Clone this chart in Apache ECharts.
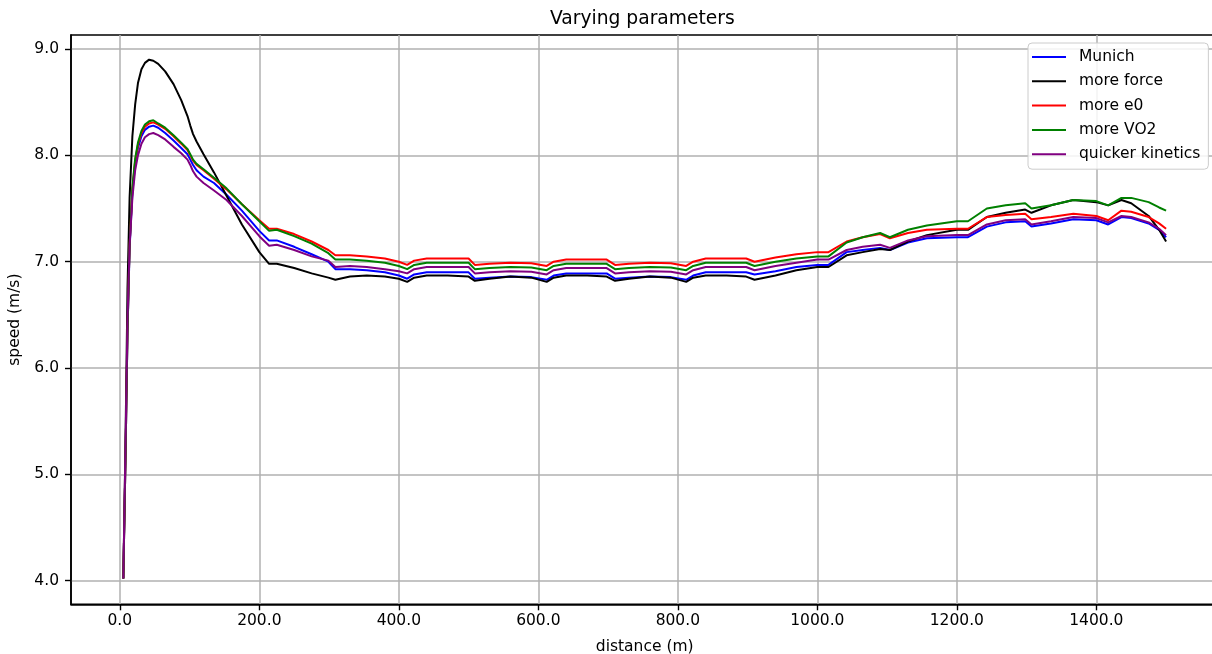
<!DOCTYPE html>
<html>
<head>
<meta charset="utf-8">
<script src="https://cdn.jsdelivr.net/npm/echarts@6/dist/echarts.min.js"></script>
<style>
html,body{margin:0;padding:0;background:#fff;}
#chart{width:1212px;height:654px;}
</style>
</head>
<body>
<div id="chart"></div>
<script>
// distance (m)
const distance = [
  5, 8, 11, 14, 18, 22, 26, 31, 36, 42, 48, 55, 65, 77, 88, 97, 101, 105, 110, 120, 135, 153, 175, 200,
  214, 225, 250, 275, 299, 309, 330, 354, 380, 400,
  412, 422, 440, 470, 500, 509, 530, 560, 590, 612, 622, 640, 670, 698, 710, 730, 760, 790, 812, 822, 840, 870, 898, 910, 940, 970, 1000,
  1016, 1042, 1065, 1090, 1104, 1130, 1157, 1200, 1216, 1243, 1270, 1298, 1307, 1335, 1367, 1400, 1417, 1436, 1450, 1475, 1490, 1500
];
const munich = [
  4.02, 5.10, 6.33, 7.12, 7.65, 7.92, 8.07, 8.18, 8.24, 8.27, 8.28, 8.26, 8.21, 8.14, 8.07, 8.01, 7.96, 7.91, 7.86, 7.80, 7.74, 7.63, 7.48, 7.29,
  7.20, 7.20, 7.14, 7.07, 7.00, 6.93, 6.93, 6.92, 6.90, 6.87,
  6.84, 6.88, 6.90, 6.90, 6.90, 6.84, 6.85, 6.86, 6.855, 6.83, 6.87, 6.89, 6.89, 6.89, 6.84, 6.85, 6.86, 6.855, 6.83, 6.87, 6.90, 6.90, 6.90, 6.88, 6.91, 6.95, 6.97,
  6.97, 7.09, 7.11, 7.13, 7.11, 7.18, 7.22, 7.23, 7.23, 7.33, 7.37, 7.38, 7.33, 7.36, 7.40, 7.39, 7.35, 7.42, 7.41, 7.36, 7.30, 7.23
];
const moreForce = [
  4.02, 5.25, 6.75, 7.60, 8.18, 8.48, 8.68, 8.81, 8.87, 8.90, 8.89, 8.86, 8.79, 8.67, 8.52, 8.37, 8.28, 8.20, 8.13, 8.01, 7.84, 7.62, 7.35, 7.09,
  6.98, 6.98, 6.94, 6.89, 6.85, 6.83, 6.86, 6.87, 6.86, 6.84,
  6.81, 6.85, 6.87, 6.87, 6.86, 6.82, 6.84, 6.86, 6.85, 6.81, 6.85, 6.87, 6.87, 6.86, 6.82, 6.84, 6.86, 6.85, 6.81, 6.85, 6.87, 6.87, 6.86, 6.83, 6.87, 6.92, 6.95,
  6.95, 7.06, 7.09, 7.12, 7.11, 7.19, 7.25, 7.30, 7.30, 7.42, 7.46, 7.49, 7.46, 7.53, 7.58, 7.56, 7.53, 7.58, 7.55, 7.43, 7.30, 7.19
];
const moreE0 = [
  4.02, 5.10, 6.35, 7.15, 7.68, 7.95, 8.10, 8.21, 8.27, 8.30, 8.31, 8.29, 8.25, 8.18, 8.11, 8.05, 8.00, 7.95, 7.91, 7.86, 7.78, 7.68, 7.54, 7.39,
  7.31, 7.31, 7.26, 7.19, 7.11, 7.06, 7.06, 7.05, 7.03, 7.00,
  6.97, 7.01, 7.03, 7.03, 7.03, 6.97, 6.98, 6.99, 6.985, 6.96, 7.00, 7.02, 7.02, 7.02, 6.97, 6.98, 6.99, 6.985, 6.96, 7.00, 7.03, 7.03, 7.03, 7.00, 7.04, 7.07, 7.09,
  7.09, 7.19, 7.23, 7.26, 7.22, 7.27, 7.30, 7.31, 7.31, 7.42, 7.44, 7.45, 7.40, 7.42, 7.45, 7.43, 7.39, 7.48, 7.47, 7.42, 7.36, 7.31
];
const moreVO2 = [
  4.02, 5.10, 6.35, 7.15, 7.70, 7.97, 8.12, 8.23, 8.29, 8.32, 8.33, 8.30, 8.26, 8.19, 8.12, 8.06, 8.01, 7.96, 7.92, 7.87, 7.79, 7.69, 7.54, 7.38,
  7.29, 7.30, 7.24, 7.17, 7.08, 7.02, 7.02, 7.01, 6.99, 6.96,
  6.93, 6.97, 6.99, 6.99, 6.99, 6.93, 6.94, 6.95, 6.945, 6.92, 6.96, 6.98, 6.98, 6.98, 6.93, 6.94, 6.95, 6.945, 6.92, 6.96, 6.99, 6.99, 6.99, 6.96, 7.00, 7.03, 7.05,
  7.05, 7.18, 7.23, 7.27, 7.23, 7.30, 7.34, 7.38, 7.38, 7.50, 7.53, 7.55, 7.50, 7.53, 7.58, 7.57, 7.53, 7.60, 7.60, 7.56, 7.51, 7.48
];
const quickerKinetics = [
  4.02, 5.20, 6.45, 7.15, 7.60, 7.86, 8.00, 8.11, 8.17, 8.20, 8.21, 8.19, 8.15, 8.08, 8.02, 7.96, 7.91, 7.85, 7.80, 7.74, 7.67, 7.58, 7.43, 7.24,
  7.15, 7.16, 7.11, 7.05, 7.01, 6.95, 6.96, 6.95, 6.93, 6.91,
  6.89, 6.93, 6.95, 6.95, 6.95, 6.89, 6.90, 6.91, 6.905, 6.88, 6.92, 6.94, 6.94, 6.94, 6.89, 6.90, 6.91, 6.905, 6.88, 6.92, 6.95, 6.95, 6.95, 6.92, 6.96, 6.99, 7.02,
  7.02, 7.11, 7.14, 7.16, 7.13, 7.20, 7.24, 7.25, 7.25, 7.35, 7.39, 7.40, 7.35, 7.38, 7.42, 7.41, 7.37, 7.43, 7.42, 7.37, 7.31, 7.25
];
const xTicks = [0, 200, 400, 600, 800, 1000, 1200, 1400];
const yTicks = [4, 5, 6, 7, 8, 9];
const seriesNames = ['Munich', 'more force', 'more e0', 'more VO2', 'quicker kinetics'];
const seriesValues = [munich, moreForce, moreE0, moreVO2, quickerKinetics];
const seriesColors = ['#0000ff', '#000000', '#ff0000', '#008000', '#800080'];

const FONT = 'DejaVu Sans';
const chart = echarts.init(document.getElementById('chart'), null, {renderer: 'canvas'});
const option = {
  animation: false,
  backgroundColor: '#ffffff',
  title: {
    text: 'Varying parameters',
    left: 550, top: 10, padding: 0,
    textStyle: {fontFamily: FONT, fontSize: 18.7, fontWeight: 'normal', color: '#000'}
  },
  grid: {
    left: 71, top: 35, width: 1147.4, height: 569.3,
    show: true, borderColor: '#000', borderWidth: 1.5, backgroundColor: 'transparent',
    containLabel: false, outerBoundsMode: 'none'
  },
  legend: {
    orient: 'vertical', left: 1028, top: 43,
    backgroundColor: 'rgba(255,255,255,0.85)', borderColor: '#cccccc', borderWidth: 1, borderRadius: 4,
    padding: [5, 8, 6, 4],
    icon: 'rect', itemWidth: 34, itemHeight: 2, itemGap: 6.3,
    textStyle: {fontFamily: FONT, fontSize: 15.5, lineHeight: 18, color: '#000', padding: [0, 0, 0, 8]},
    data: seriesNames
  },
  xAxis: {
    type: 'value', min: -70, max: 1575,
    name: 'distance (m)', nameLocation: 'middle', nameGap: 35,
    nameTextStyle: {fontFamily: FONT, fontSize: 15.5, color: '#000'},
    axisLine: {show: true, onZero: false, lineStyle: {color: '#000', width: 1.6}},
    axisTick: {show: true, customValues: xTicks, length: 6, lineStyle: {color: '#000', width: 1.4}},
    axisLabel: {customValues: xTicks, formatter: v => Number(v).toFixed(1), fontFamily: FONT, fontSize: 15.5, color: '#000', margin: 9},
    splitLine: {show: true, lineStyle: {color: '#b0b0b0', width: 1.5}}
  },
  yAxis: {
    type: 'value', min: 3.778, max: 9.132,
    name: 'speed (m/s)', nameLocation: 'middle', nameGap: 44, nameRotate: 90,
    nameTextStyle: {fontFamily: FONT, fontSize: 15.5, color: '#000'},
    axisLine: {show: true, onZero: false, lineStyle: {color: '#000', width: 1.6}},
    axisTick: {show: true, customValues: yTicks, length: 6, lineStyle: {color: '#000', width: 1.4}},
    axisLabel: {customValues: yTicks, formatter: v => Number(v).toFixed(1), fontFamily: FONT, fontSize: 15.5, color: '#000', margin: 12},
    splitLine: {show: true, lineStyle: {color: '#b0b0b0', width: 1.5}}
  },
  series: seriesNames.map((name, i) => ({
    name: name,
    type: 'line',
    showSymbol: false,
    symbol: 'none',
    clip: true,
    data: distance.map((d, j) => [d, seriesValues[i][j]]),
    lineStyle: {color: seriesColors[i], width: 2},
    itemStyle: {color: seriesColors[i]},
    z: 2 + i
  }))
};
chart.setOption(option);
</script>
</body>
</html>
